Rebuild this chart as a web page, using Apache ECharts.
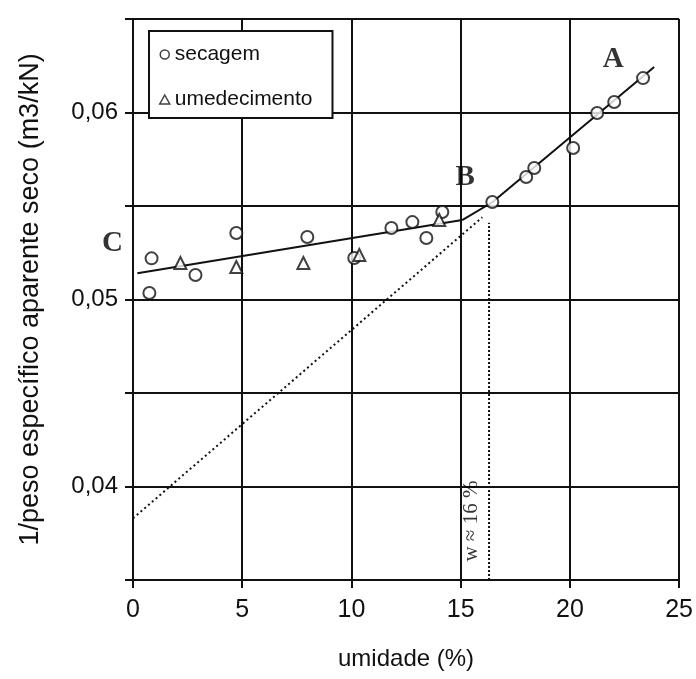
<!DOCTYPE html>
<html><head><meta charset="utf-8">
<script src="https://cdn.jsdelivr.net/npm/echarts@6/dist/echarts.min.js"></script>
<style>html,body{margin:0;padding:0;background:#fff}#c{width:696px;height:679px}</style>
</head><body><div id="c"></div>
<script>
// ---- data ----
const xRange = [0, 25];
const yRange = [0.035, 0.065];
const secagem = [
  [0.85, 0.0522], [0.75, 0.05035], [2.86, 0.05131], [4.73, 0.05356], [7.98, 0.05334],
  [10.13, 0.05222], [11.83, 0.05382], [12.79, 0.05414], [13.43, 0.05329], [14.16, 0.05468],
  [16.45, 0.05521], [18.0, 0.05655], [18.37, 0.05703], [20.15, 0.0581], [21.25, 0.05997],
  [22.03, 0.06056], [23.35, 0.06184]
];
const umedecimento = [
  [2.17, 0.05195], [4.73, 0.05174], [7.8, 0.05195], [10.36, 0.05238], [14.02, 0.05425]
];
const trendCB = [[0.2, 0.0514], [15.07, 0.05425]];
const trendBA = [[15.07, 0.05425], [16.45, 0.0552], [23.86, 0.06243]];
const dottedExt = [[0, 0.0383], [15.99, 0.0544]];
const wLine = [[16.3, 0.035], [16.3, 0.0541]];
const letters = [
  { name: 'A', value: [21.98, 0.06286] },
  { name: 'B', value: [15.21, 0.0565] },
  { name: 'C', value: [-0.94, 0.05297] }
];
const wNote = [{ name: 'w ≈ 16 %', value: [15.48, 0.03815] }];

// ---- chart ----
const chart = echarts.init(document.getElementById('c'), null, { renderer: 'canvas' });
const ink = '#111';
const sans = 'Liberation Sans, Arial, sans-serif';
const serif = 'Liberation Serif, Times New Roman, serif';

chart.setOption({
  animation: false,
  backgroundColor: '#fff',
  grid: { left: 133, right: 16, top: 19, bottom: 99 },
  legend: {
    orient: 'vertical', left: 149, top: 31,
    padding: [13, 20, 8, 10], itemGap: 24,
    itemWidth: 10, itemHeight: 9,
    backgroundColor: '#fff', borderColor: ink, borderWidth: 2,
    textStyle: { fontFamily: sans, fontSize: 21, color: ink },
    data: [
      { name: 'secagem', icon: 'circle', itemStyle: { color: '#fff', borderColor: ink, borderWidth: 1.5 } },
      { name: 'umedecimento', icon: 'triangle', itemStyle: { color: '#fff', borderColor: ink, borderWidth: 1.5 } }
    ]
  },
  xAxis: {
    type: 'value', min: xRange[0], max: xRange[1], interval: 5,
    name: 'umidade (%)', nameLocation: 'middle', nameGap: 67,
    nameTextStyle: { fontFamily: sans, fontSize: 24, color: ink },
    axisLine: { show: true, onZero: false, lineStyle: { color: ink, width: 2 } },
    axisTick: { show: true, length: 8, lineStyle: { color: ink, width: 2 } },
    axisLabel: { fontFamily: sans, fontSize: 25, color: ink, margin: 18 },
    splitLine: { show: true, lineStyle: { color: ink, width: 2 } }
  },
  yAxis: {
    type: 'value', min: yRange[0], max: yRange[1], interval: 0.005,
    name: '1/peso específico aparente seco (m3/kN)', nameLocation: 'middle', nameGap: 89,
    nameTextStyle: { fontFamily: sans, fontSize: 27, color: ink },
    axisLine: { show: true, lineStyle: { color: ink, width: 2 } },
    axisTick: { show: true, length: 8, lineStyle: { color: ink, width: 2 } },
    axisLabel: {
      fontFamily: sans, fontSize: 24, color: ink, margin: 15,
      formatter: v => {
        const k = Math.round(v * 1000);
        return k % 10 === 0 ? (k / 1000).toFixed(2).replace('.', ',') : '';
      }
    },
    splitLine: { show: true, lineStyle: { color: ink, width: 2 } }
  },
  series: [
    {
      name: 'trendCB', type: 'line', data: trendCB, symbol: 'none', silent: true,
      lineStyle: { color: ink, width: 2 }, z: 3
    },
    {
      name: 'trendBA', type: 'line', data: trendBA, symbol: 'none', silent: true,
      lineStyle: { color: ink, width: 2 }, z: 3
    },
    {
      name: 'dotted', type: 'line', data: dottedExt, symbol: 'none', silent: true,
      lineStyle: { color: ink, width: 2, type: [2, 3] }, z: 3
    },
    {
      name: 'wline', type: 'line', data: wLine, symbol: 'none', silent: true,
      lineStyle: { color: ink, width: 2, type: [2, 2] }, z: 3
    },
    {
      name: 'secagem', type: 'scatter', data: secagem, symbol: 'circle', symbolSize: 12,
      itemStyle: { color: '#fff', borderColor: ink, borderWidth: 2 }, z: 5
    },
    {
      name: 'umedecimento', type: 'scatter', data: umedecimento, symbol: 'triangle', symbolSize: 12,
      itemStyle: { color: '#fff', borderColor: ink, borderWidth: 2 }, z: 5
    },
    {
      name: 'letters', type: 'scatter', data: letters, symbolSize: 0, clip: false, silent: true,
      label: {
        show: true, position: 'inside', formatter: p => p.name,
        fontFamily: serif, fontWeight: 'bold', fontSize: 29, color: '#000'
      }, z: 6
    },
    {
      name: 'wnote', type: 'scatter', data: wNote, symbolSize: 0, clip: false, silent: true,
      label: {
        show: true, position: 'inside', rotate: 90, formatter: p => p.name,
        fontFamily: serif, fontSize: 21, color: '#000'
      }, z: 6
    }
  ]
});
</script>
</body></html>
